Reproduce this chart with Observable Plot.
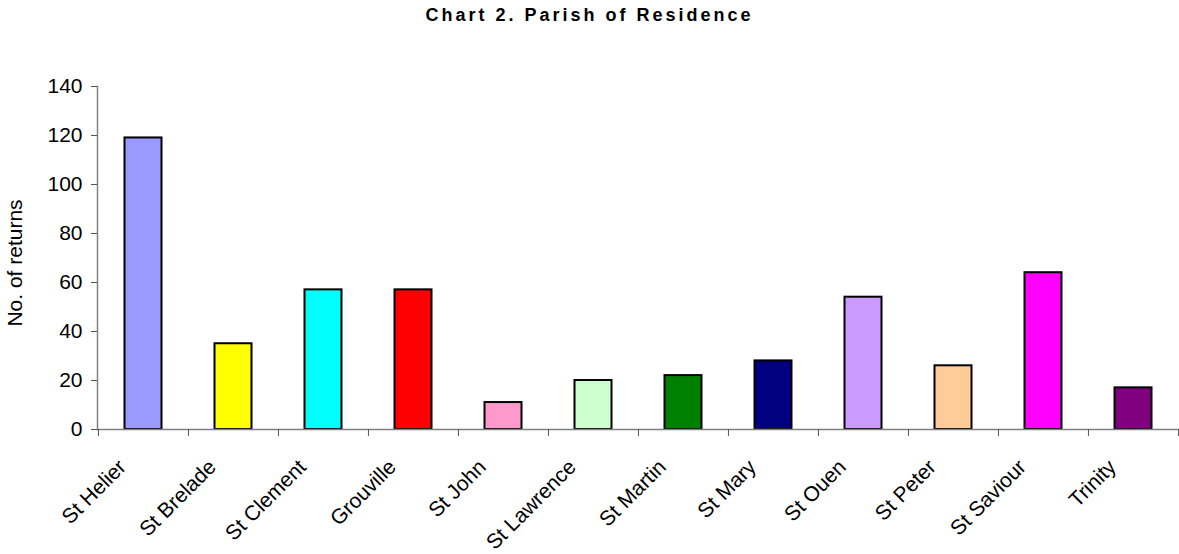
<!DOCTYPE html>
<html><head><meta charset="utf-8">
<script src="https://cdn.jsdelivr.net/npm/d3@7"></script>
<script src="https://cdn.jsdelivr.net/npm/@observablehq/plot@0.6"></script>
<style>
body{margin:0;background:#fff;font-family:Arial,"Liberation Sans",sans-serif;}
#title{height:30px;line-height:30px;text-align:center;font-weight:bold;font-size:18px;letter-spacing:3px;color:#000;}
</style></head><body>
<div id="title">Chart 2. Parish of Residence</div>
<div id="chart"></div>
<script>
const parishes = ["St Helier","St Brelade","St Clement","Grouville","St John","St Lawrence","St Martin","St Mary","St Ouen","St Peter","St Saviour","Trinity"];
const returns = [119, 35, 57, 57, 11, 20, 22, 28, 54, 26, 64, 17];
const colors = ["#9999FF","#FFFF00","#00FFFF","#FF0000","#FF99CC","#CCFFCC","#008000","#000080","#CC99FF","#FFCC99","#FF00FF","#800080"];
const yTicks = [0,20,40,60,80,100,120,140];
const yLabel = "No. of returns";

const data = parishes.map((p,i)=>({parish:p, value:returns[i], color:colors[i]}));
const W = 1179, H = 524, mL = 97, mR = 1;
const step = (W - mL - mR) / parishes.length;
const font = "Arial, 'Liberation Sans', sans-serif";
const chart = Plot.plot({
  width: W, height: H,
  marginLeft: mL, marginRight: mR, marginTop: 56, marginBottom: 125,
  style: {fontFamily: font, fontSize: "22px", color: "#000", background: "#fff", overflow: "visible"},
  x: {domain: parishes, padding: 0, label: null},
  y: {domain: [0, 140], label: null},
  marks: [
    Plot.barY(data, {x: "parish", y: "value", fill: "color", stroke: "#000", strokeWidth: 2, insetLeft: 26.5, insetRight: 26.5}),
    Plot.frame({anchor: "left", stroke: "#808080", strokeWidth: 1.5}),
    Plot.frame({anchor: "bottom", stroke: "#808080", strokeWidth: 1.5}),
    Plot.axisY({ticks: yTicks, tickSize: 6, tickPadding: 9, stroke: "#555", strokeOpacity: 1, fontSize: 21, label: null}),
    Plot.axisX({ticks: parishes, tickSize: 7, tickFormat: () => "", dx: -step/2, stroke: "#555", strokeOpacity: 1, label: null}),
    Plot.axisX({ticks: [parishes[parishes.length-1]], tickSize: 7, tickFormat: () => "", dx: step/2, stroke: "#555", strokeOpacity: 1, label: null}),
    Plot.axisX({ticks: parishes, tickSize: 0, tickRotate: -45, tickPadding: 8, dx: -21, dy: 26, fontSize: 21, label: null}),
    Plot.text([yLabel], {frameAnchor: "left", rotate: -90, textAnchor: "middle", dx: -82, dy: 5, fontSize: 21, fill: "#000"})
  ]
});
document.getElementById("chart").appendChild(chart);
</script>
</body></html>
